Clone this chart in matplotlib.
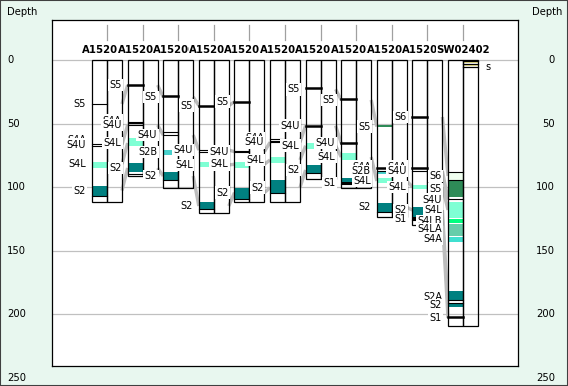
import matplotlib
matplotlib.use("Agg")
import matplotlib.pyplot as plt
import matplotlib.transforms as mtransforms
from matplotlib.patches import Rectangle

plt.rcParams['font.family'] = 'DejaVu Sans'

# Wells, left to right (depth values)
well_names = ["A152003", "A152005", "A152007", "A152012", "A152014", "A152016",
              "A152018", "A152021", "A152023", "A152025", "SW02402"]
well_td = [111.6, 91.2, 100.4, 120.5, 111.4, 111.4, 93.6, 100.9, 123.2, 129.7, 208.9]

# horizon lines in the zone track
thick_lines = [
    [],
    [19.7],
    [28.1],
    [35.9],
    [32.8],
    [],
    [22.2, 51.6],
    [30.9, 65.5],
    [84.7],
    [44.6, 85.1],
    [201.8],
]
thin_lines = [
    [34.6, 66.3, 67.4, 107.2],
    [48.5, 49.8, 51.1, 89.9],
    [56.8, 59.0, 94.3],
    [70.8, 72.1, 117.1],
    [71.5, 72.6, 109.3],
    [62.1, 63.7, 64.7, 104.8],
    [89.1],
    [97.5],
    [87.3, 119.3],
    [87.0, 125.8],
    [87.8, 94.3, 109.5, 188.7, 191.0],
]

# coloured zones: (top, base, zone)
zone_fills = [
    [(80.0, 84.6, "S4L"), (98.8, 107.2, "S2")],
    [(61.6, 67.4, "S4L"), (81.2, 87.8, "S2")],
    [(70.8, 74.7, "S2B"), (87.8, 94.3, "S2")],
    [(80.4, 83.9, "S4L"), (111.4, 117.1, "S2")],
    [(80.0, 84.6, "S4L"), (100.4, 109.3, "S2")],
    [(76.0, 81.2, "S4L"), (94.3, 104.8, "S2")],
    [(65.5, 70.2, "S4L"), (82.5, 89.1, "S2")],
    [(73.3, 78.6, "S4L"), (93.0, 95.7, "S2"), (95.7, 97.5, "S1")],
    [(50.9, 52.3, "S5"), (87.8, 89.9, "S2B"), (93.0, 96.9, "S4L"), (112.7, 119.3, "S2")],
    [(98.3, 101.4, "S4L"), (115.8, 123.2, "S2"), (123.7, 125.8, "S1")],
    [(87.8, 94.3, "S6"), (94.9, 107.5, "S5"), (111.4, 124.5, "S4L"), (125.2, 128.4, "S4LB"),
     (128.9, 138.4, "S4LA"), (138.9, 142.8, "S4A"), (182.0, 188.7, "S2A"), (191.3, 194.5, "S2")],
]

# tops labels: (name, depth)
well_tops = [
    [("S5", 34.6), ("S4U", 66.5), ("S4L", 81.8), ("S2", 102.7)],
    [("S5", 19.7), ("S4U", 51.1), ("S4L", 65.3), ("S2", 84.9)],
    [("S5", 29.0), ("S4U", 59.0), ("S2B", 72.3), ("S2", 91.2)],
    [("S5", 35.9), ("S4U", 70.8), ("S4L", 82.5), ("S2", 114.8)],
    [("S5", 32.8), ("S4U", 72.1), ("S4L", 82.0), ("S2", 104.3)],
    [("S4U", 64.7), ("S4L", 78.6), ("S2", 100.4)],
    [("S5", 23.0), ("S4U", 51.6), ("S4L", 67.4), ("S2", 86.5)],
    [("S5", 31.4), ("S4U", 65.3), ("S4L", 76.3), ("S1", 97.0)],
    [("S5", 52.4), ("S2B", 87.3), ("S4L", 95.1), ("S2", 115.8)],
    [("S6", 44.8), ("S4U", 87.3), ("S4L", 99.8), ("S2", 118.0), ("S1", 125.2)],
    [("S6", 91.2), ("S5", 101.4), ("S4U", 109.7), ("S4L", 117.9), ("S4LB", 126.6),
     ("S4LA", 132.9), ("S4A", 140.7), ("S2A", 186.3), ("S2", 192.6), ("S1", 202.8)],
]
# tops hidden under the next label
hidden_tops = [
    [("S4A", 63.1)],
    [("S4A", 47.7)],
    [],
    [],
    [],
    [("S4A", 61.3)],
    [],
    [],
    [("S4A", 84.0)],
    [("S4A", 84.0)],
    [],
]

# lithology track of the last well
litho_fills = [(1.3, 2.6, "s"), (3.5, 4.6, "s")]
litho_lines = [0.8, 3.1, 5.2]
litho_label = ("s", 5.2)

depth_ticks = [0, 50, 100, 150, 200, 250]

zone_colors = {
    "S6": "#F0FFF0", "S5": "#2E8B57", "S4L": "#7FFFD4", "S4LB": "#00FF7F",
    "S4LA": "#66CDAA", "S4A": "#40E0D0", "S2B": "#48D1CC", "S2A": "#008080",
    "S2": "#008080", "S1": "#000000", "s": "#F0E68C",
}

hw = 15 / 35.6       # half width of a well, in well spacing units
lab_gap = 6 / 35.6

fig = plt.figure(figsize=(5.68, 3.86), dpi=100)
fig.patch.set_facecolor('#E8F7EF')
ax = fig.add_axes([52 / 568, 20 / 386, 466 / 568, 346 / 386])
ax.set_facecolor('white')
ax.set_xlim(-1.545, 11.545)
ax.set_ylim(240.6, -31.45)
ax.set_xticks([])
ax.set_yticks([])
for sp in ax.spines.values():
    sp.set_linewidth(0.9)
    sp.set_color('black')

# grid
for d in depth_ticks[:-1]:
    ax.axhline(d, color='#C0C0C0', lw=0.9, zorder=0)

# depth scale on both sides
trans = mtransforms.blended_transform_factory(fig.transFigure, ax.transData)
for d in depth_ticks:
    ax.text(7 / 568, d, str(d), transform=trans, ha='left', va='center', fontsize=7.2)
    ax.text(555 / 568, d, str(d), transform=trans, ha='right', va='center', fontsize=7.2)
fig.text(7 / 568, 1 - 12 / 386, "Depth", ha='left', va='center', fontsize=7.2)
fig.text(562 / 568, 1 - 12 / 386, "Depth", ha='right', va='center', fontsize=7.2)

# correlation lines between neighbour wells
for i in range(len(well_names) - 1):
    left = dict(well_tops[i])
    right = dict(well_tops[i + 1])
    for name, d0 in left.items():
        if name in right:
            ax.plot([i + hw, i + 1 - hw], [d0, right[name]], color='#BDBDBD',
                    lw=2.4, zorder=1, solid_capstyle='butt')

for i, name in enumerate(well_names):
    # header
    ax.plot([i, i], [-27.5, -15.7], color='#A0A0A0', lw=0.9, zorder=2)
    ax.text(i, -7.9, name, ha='center', va='center', fontsize=7.3, fontweight='bold',
            bbox=dict(facecolor='white', edgecolor='none', pad=0), zorder=3)

    for top, base, zone in zone_fills[i]:
        ax.add_patch(Rectangle((i - hw, top), hw, base - top,
                               facecolor=zone_colors[zone], edgecolor='none', zorder=2))
    for d in thin_lines[i]:
        ax.plot([i - hw, i], [d, d], color='black', lw=0.8, zorder=3)
    for d in thick_lines[i]:
        ax.plot([i - hw, i], [d, d], color='black', lw=1.8, zorder=3)

    ax.add_patch(Rectangle((i - hw, 0), hw, well_td[i], fill=False,
                           edgecolor='black', lw=0.9, zorder=4))
    ax.add_patch(Rectangle((i, 0), hw, well_td[i], fill=False,
                           edgecolor='black', lw=0.9, zorder=4))

    for lab, d in hidden_tops[i] + well_tops[i]:
        ax.text(i - hw - lab_gap, d, lab, ha='right', va='center', fontsize=7,
                bbox=dict(facecolor='white', edgecolor='none', pad=1.0), zorder=5)

# lithology track of SW02402
last = len(well_names) - 1
for top, base, zone in litho_fills:
    ax.add_patch(Rectangle((last, top), hw, base - top,
                           facecolor=zone_colors[zone], edgecolor='none', zorder=2))
for d in litho_lines:
    ax.plot([last, last + hw], [d, d], color='black', lw=0.9, zorder=3)
ax.text(last + hw + 0.2, litho_label[1], litho_label[0], ha='left', va='center',
        fontsize=7, zorder=5)

# outer frame
fig.add_artist(Rectangle((0, 0), 1, 1, transform=fig.transFigure, fill=False,
                         edgecolor='#404040', lw=1.5))

fig.savefig("out.png", dpi=100, facecolor=fig.get_facecolor())
